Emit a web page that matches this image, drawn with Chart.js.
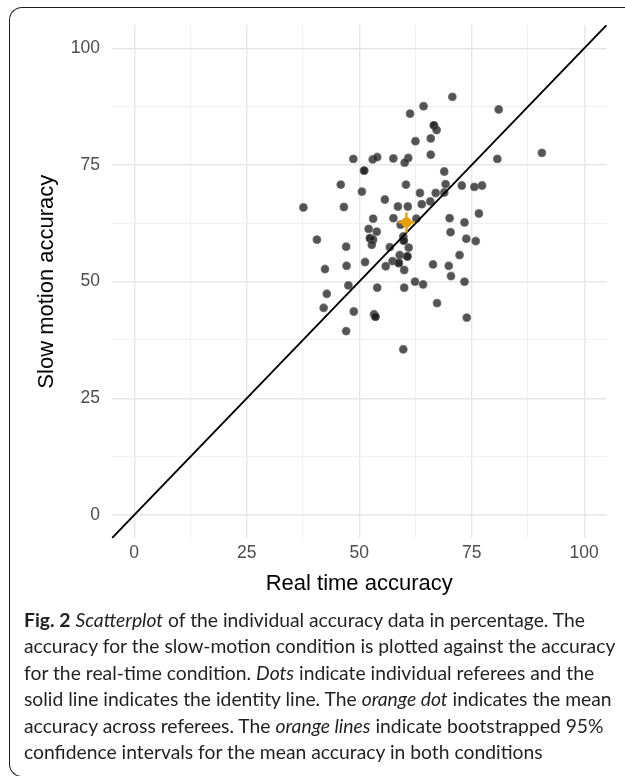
<!DOCTYPE html>
<html>
<head>
<meta charset="utf-8">
<script src="https://cdn.jsdelivr.net/npm/chart.js@4.4.0/dist/chart.umd.min.js"></script>
<style>
  html, body { margin: 0; padding: 0; background: #fff; width: 625px; height: 776px; overflow: hidden; }
  #frame { position: absolute; left: 9px; top: 7px; width: 660px; height: 770px; box-sizing: border-box;
           border-left: 1.6px solid #1f1f1f; border-top: 1.6px solid #1f1f1f; border-bottom: 1.6px solid #1f1f1f;
           border-radius: 13px 0 0 13px; }
  #wrap { position: absolute; left: 0; top: 0; width: 625px; height: 610px; }
  #caption { position: absolute; left: 24px; top: 607px; font-family: Lato, "Open Sans", sans-serif;
             font-size: 18.5px; line-height: 26.4px; color: #231f20; white-space: nowrap; }
  #caption div { display: block; }
  #caption span.ln { display: inline-block; }
</style>
</head>
<body>
<div id="frame"></div>
<div id="wrap"><canvas id="c" width="625" height="610"></canvas></div>
<div id="caption">
  <div><span class="ln"><b>Fig. 2</b> <i>Scatterplot</i> of the individual accuracy data in percentage. The</span></div>
  <div><span class="ln">accuracy for the slow-motion condition is plotted against the accuracy</span></div>
  <div><span class="ln">for the real-time condition. <i>Dots</i> indicate individual referees and the</span></div>
  <div><span class="ln" id="fitline">solid line indicates the identity line. The <i>orange dot</i> indicates the mean</span></div>
  <div><span class="ln">accuracy across referees. The <i>orange lines</i> indicate bootstrapped 95%</span></div>
  <div><span class="ln">confidence intervals for the mean accuracy in both conditions</span></div>
</div>
<script>
// ---- Data ----
const realTime = [
  70.7, 64.3, 61.3, 81.0, 66.6, 66.6, 67.2, 65.9, 62.5, 48.7,
  53.0, 54.0, 57.6, 60.9, 60.1, 65.9, 80.7, 90.6, 51.1, 51.1,
  68.9, 45.9, 50.6, 60.4, 69.2, 72.8, 75.6, 77.3, 55.7, 63.5,
  67.0, 68.9, 65.8, 63.9, 58.6, 60.8, 37.6, 46.6, 53.1, 57.6,
  59.2, 62.7, 70.1, 73.4, 76.6, 52.1, 53.9, 70.3, 40.6, 47.1,
  52.4, 52.4, 53.1, 52.8, 59.8, 59.9, 59.9, 56.8, 61.0, 73.8,
  75.9, 59.0, 60.7, 60.7, 57.4, 58.8, 58.8, 72.3, 51.3, 42.4,
  47.2, 55.9, 60.0, 66.4, 69.9, 70.4, 62.4, 64.2, 73.4, 47.6,
  54.0, 60.0, 42.8, 42.1, 48.8, 53.3, 53.6, 53.6, 67.3, 73.9,
  47.1, 59.8
];
const slowMotion = [
  89.6, 87.6, 86.0, 86.9, 83.5, 83.5, 82.5, 80.7, 80.1, 76.3,
  76.2, 76.7, 76.4, 76.5, 75.5, 77.2, 76.3, 77.6, 73.8, 73.8,
  73.6, 70.8, 69.3, 70.8, 70.9, 70.6, 70.3, 70.6, 67.6, 69.0,
  69.0, 69.1, 67.2, 66.6, 66.1, 66.1, 65.9, 66.0, 63.5, 63.6,
  62.2, 63.5, 63.6, 62.7, 64.6, 61.3, 60.7, 60.6, 59.0, 57.5,
  59.3, 59.3, 59.0, 57.9, 59.7, 58.8, 58.8, 57.4, 57.3, 59.2,
  58.7, 55.7, 55.4, 55.4, 54.4, 54.0, 54.0, 55.7, 54.2, 52.7,
  53.4, 53.3, 52.5, 53.7, 53.4, 51.2, 50.0, 49.4, 50.0, 49.2,
  48.7, 48.7, 47.4, 44.4, 43.6, 43.0, 42.5, 42.5, 45.4, 42.3,
  39.4, 35.5
];
const meanPoint = [60.5, 62.7];          // [real time, slow motion]
const ciRealTime = [58.7, 62.4];         // bootstrapped 95% CI, real time
const ciSlowMotion = [60.5, 64.8];       // bootstrapped 95% CI, slow motion
const identityLine = [-5, 105];
const axisRange = [-5, 105];
const gridValues = [0, 12.5, 25, 37.5, 50, 62.5, 75, 87.5, 100];
const tickLabels = ['0', '25', '50', '75', '100'];
const xTitle = 'Real time accuracy';
const yTitle = 'Slow motion accuracy';

// fit caption font to the reference line width
(function () {
  const cap = document.getElementById('caption');
  const ln = document.getElementById('fitline');
  const w = ln.getBoundingClientRect().width;
  const target = 588;
  const fs = 18.5 * target / w;
  cap.style.fontSize = fs.toFixed(2) + 'px';
})();

const points = realTime.map((x, i) => ({ x: x, y: slowMotion[i] }));

const isMajor = v => tickLabels.includes(String(v));

const scaleCommon = {
  type: 'linear',
  min: axisRange[0],
  max: axisRange[1],
  border: { display: false },
  grid: {
    drawTicks: false,
    color: ctx => isMajor(ctx.tick && ctx.tick.value) ? '#e6e6e6' : '#eeeeee',
    lineWidth: ctx => isMajor(ctx.tick && ctx.tick.value) ? 1.4 : 0.9
  },
  afterBuildTicks: scale => { scale.ticks = gridValues.map(v => ({ value: v })); },
  ticks: {
    autoSkip: false,
    maxRotation: 0,
    color: '#4d4d4d',
    font: { family: '"Liberation Sans", Arial, sans-serif', size: 17.5 },
    callback: v => isMajor(v) ? String(v) : ''
  }
};

new Chart(document.getElementById('c'), {
  type: 'scatter',
  data: {
    datasets: [
      {
        label: 'mean',
        data: [{ x: meanPoint[0], y: meanPoint[1] }],
        backgroundColor: '#E69F00',
        borderColor: '#E69F00',
        pointRadius: 5.2,
        borderWidth: 0,
        order: 0
      },
      {
        label: 'ci real time',
        data: ciRealTime.map(v => ({ x: v, y: meanPoint[1] })),
        showLine: true,
        borderColor: '#E69F00',
        borderWidth: 2.4,
        pointRadius: 0,
        order: 1
      },
      {
        label: 'ci slow motion',
        data: ciSlowMotion.map(v => ({ x: meanPoint[0], y: v })),
        showLine: true,
        borderColor: '#E69F00',
        borderWidth: 2.4,
        pointRadius: 0,
        order: 1
      },
      {
        label: 'identity',
        data: identityLine.map(v => ({ x: v, y: v })),
        showLine: true,
        borderColor: '#000000',
        borderWidth: 1.9,
        pointRadius: 0,
        order: 2
      },
      {
        label: 'referees',
        data: points,
        backgroundColor: 'rgba(30,30,30,0.76)',
        borderColor: 'rgba(100,100,100,0.7)',
        borderWidth: 1.1,
        pointRadius: 3.9,
        order: 3
      }
    ]
  },
  options: {
    responsive: false,
    animation: false,
    layout: { padding: { top: 25, right: 18.3, left: 0, bottom: 0 } },
    plugins: { legend: { display: false }, tooltip: { enabled: false } },
    scales: {
      x: Object.assign({}, scaleCommon, {
        position: 'bottom',
        afterFit: s => { s.height = 71.7; },
        ticks: Object.assign({}, scaleCommon.ticks, { padding: 4 }),
        title: {
          display: true, text: xTitle, color: '#000',
          font: { family: '"Liberation Sans", Arial, sans-serif', size: 22 },
          padding: { top: 0, bottom: 12.8 }
        }
      }),
      y: Object.assign({}, scaleCommon, {
        position: 'left',
        afterFit: s => { s.width = 111.7; },
        ticks: Object.assign({}, scaleCommon.ticks, { padding: 11.7 }),
        title: {
          display: true, text: yTitle, color: '#000',
          font: { family: '"Liberation Sans", Arial, sans-serif', size: 22 },
          padding: { top: 33.8, bottom: 0 }
        }
      })
    }
  }
});
</script>
</body>
</html>
